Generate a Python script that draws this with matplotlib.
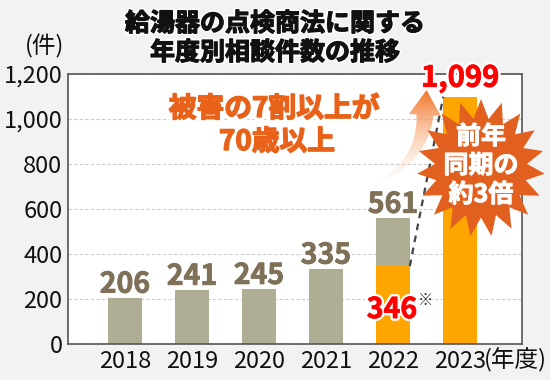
import numpy as np
import matplotlib
matplotlib.use("Agg")
import matplotlib.pyplot as plt
import matplotlib.patheffects as pe
from matplotlib.patches import Polygon

plt.rcParams['font.family'] = ['Noto Sans CJK JP', 'DejaVu Sans']

# データ
years = ['2018', '2019', '2020', '2021', '2022', '2023']
totals = [206, 241, 245, 335, 561, 1099]
orange_part = [0, 0, 0, 0, 346, 1099]   # 2022年の内数(※)と2023年
yticks = [0, 200, 400, 600, 800, 1000, 1200]

GRAY = '#afae94'
ORANGE = '#ffa500'
LABEL = '#7f7158'
BG = '#f2f2f2'

W, H = 550, 380
fig = plt.figure(figsize=(W / 100, H / 100), dpi=100, facecolor=BG)


def fx(px):
    return px / W


def fy(py):
    return 1 - py / H


def bolder(col, outer='white', w=0.8, ow=4):
    # 太めに見せるための縁取り
    return [pe.Stroke(linewidth=ow, foreground=outer), pe.Stroke(linewidth=w, foreground=col), pe.Normal()]


ax = fig.add_axes([fx(68), fy(344), fx(522) - fx(68), fy(74) - fy(344)])
ax.set_facecolor('white')

x = np.arange(len(years))
gray_part = [t - o for t, o in zip(totals, orange_part)]
ax.bar(x, orange_part, width=0.5, color=ORANGE, zorder=2)
ax.bar(x, gray_part, width=0.5, bottom=orange_part, color=GRAY, zorder=2)

ax.set_xlim(-0.85, 5.925)
ax.set_ylim(0, 1200)
ax.set_yticks(yticks)
ax.set_yticklabels([f'{v:,}' for v in yticks], fontsize=17)
ax.set_xticks(x)
ax.set_xticklabels(years, fontsize=17)
ax.tick_params(length=0, pad=4, colors='#111111')
ax.grid(axis='y', linestyle=(0, (3, 2)), color='#cccccc', linewidth=0.8, zorder=0)
for s in ax.spines.values():
    s.set_color('#555555')
    s.set_linewidth(1.2)

# 数値ラベル
for i in range(5):
    ax.annotate(str(totals[i]), (x[i], totals[i]), xytext=(0, 5), textcoords='offset pixels',
                ha='center', va='baseline', fontsize=20.5, fontweight='bold', color=LABEL,
                path_effects=bolder(LABEL, w=0.6), zorder=5)
ax.annotate(str(orange_part[4]), (x[4], 0), xytext=(-1, 26), textcoords='offset pixels',
            ha='center', va='baseline', fontsize=20.5, fontweight='bold', color='#ff0000',
            path_effects=bolder('#ff0000', w=0.6), zorder=5)
ax.annotate('※', (x[4], 0), xytext=(32, 44), textcoords='offset pixels',
            ha='center', va='center', fontsize=11, color='#333333', zorder=5)
ax.annotate(f'{totals[5]:,}', (x[5], totals[5]), xytext=(0, 10), textcoords='offset pixels',
            ha='center', va='baseline', fontsize=21, fontweight='bold', color='#ff0000',
            path_effects=bolder('#ff0000', w=0.6), zorder=6, annotation_clip=False)

# 破線
ax.plot([x[4] + 0.25, x[5] - 0.25], [orange_part[4], totals[5]], linestyle=(0, (3, 2.5)),
        color='#444444', linewidth=1.6, zorder=3, clip_on=False)

# 上に重ねる装飾用の軸(ピクセル座標)
ov = fig.add_axes([0, 0, 1, 1])
ov.axis('off')
ov.patch.set_alpha(0)

# タイトル
ov.text(275, 24, '給湯器の点検商法に関する', ha='center', va='center', fontsize=18, fontweight='bold',
        color='#111111', path_effects=bolder('#111111', w=0.9, ow=3))
ov.text(275, 53, '年度別相談件数の推移', ha='center', va='center', fontsize=18, fontweight='bold',
        color='#111111', path_effects=bolder('#111111', w=0.9, ow=3))
ov.text(45, 46, '(件)', ha='center', va='center', fontsize=17, color='#111111')
ov.text(484, 360, '(年度)', ha='left', va='center', fontsize=17, color='#111111')

# 曲線矢印(グラデーション)
t = np.linspace(0, 1, 40)
p0, p1, p2 = np.array([377, 182]), np.array([422, 162]), np.array([425, 115])
c = ((1 - t) ** 2)[:, None] * p0 + (2 * (1 - t) * t)[:, None] * p1 + (t ** 2)[:, None] * p2
d = (2 * (1 - t))[:, None] * (p1 - p0) + (2 * t)[:, None] * (p2 - p1)
d = d / np.linalg.norm(d, axis=1)[:, None]
n = np.column_stack([-d[:, 1], d[:, 0]])
hw = 0.5 + 8 * t
left = c + n * hw[:, None]
right = c - n * hw[:, None]
tip = p2 + d[-1] * 25
head = [p2 + n[-1] * 16, tip, p2 - n[-1] * 16]
pts = np.vstack([left, head, right[::-1]])
arrow = Polygon(pts, closed=True, facecolor='none', edgecolor='none')
ov.add_patch(arrow)
grad = np.zeros((100, 2, 4))
a = np.linspace(0, 1, 100)[:, None]
c_light = np.array([1.0, 0.9, 0.82])
c_dark = np.array([0.94, 0.42, 0.1])
grad[:, :, :3] = (c_light * (1 - a) + c_dark * a)[:, None, :]
grad[:, :, 3] = (0.1 + 0.9 * a)
# 行0が上(濃い色)になるよう反転
im = ov.imshow(grad[::-1], extent=[365, 455, 185, 86], origin='upper', aspect='auto', zorder=4)
im.set_clip_path(arrow)
ov.set_xlim(0, W)
ov.set_ylim(H, 0)

# 注釈テキスト
ov.text(274, 109, '被害の7割以上が', ha='center', va='center', fontsize=20, fontweight='bold',
        color='#e8621a', path_effects=bolder('#e8621a', w=1.0, ow=5.5), zorder=5)
ov.text(277, 142, '70歳以上', ha='center', va='center', fontsize=20, fontweight='bold',
        color='#e8621a', path_effects=bolder('#e8621a', w=1.0, ow=5.5), zorder=5)

# 爆発マーク
k = 19
ang = np.linspace(0, 2 * np.pi, 2 * k, endpoint=False) + np.pi / 2
r = np.where(np.arange(2 * k) % 2 == 0, 1.0, 0.72)
cx, cy = 481, 168
star = np.column_stack([cx + 64 * r * np.cos(ang), cy - 69 * r * np.sin(ang)])
ov.add_patch(Polygon(star, closed=True, facecolor='#e2601f', edgecolor='none', zorder=6))
for txt, yy in [('前年', 137), ('同期の', 166), ('約3倍', 195)]:
    ov.text(481, yy, txt, ha='center', va='center', fontsize=18, fontweight='bold', color='white', zorder=7,
            path_effects=[pe.Stroke(linewidth=0.7, foreground='white'), pe.Normal()])

fig.savefig('out.png', dpi=100, facecolor=BG)
